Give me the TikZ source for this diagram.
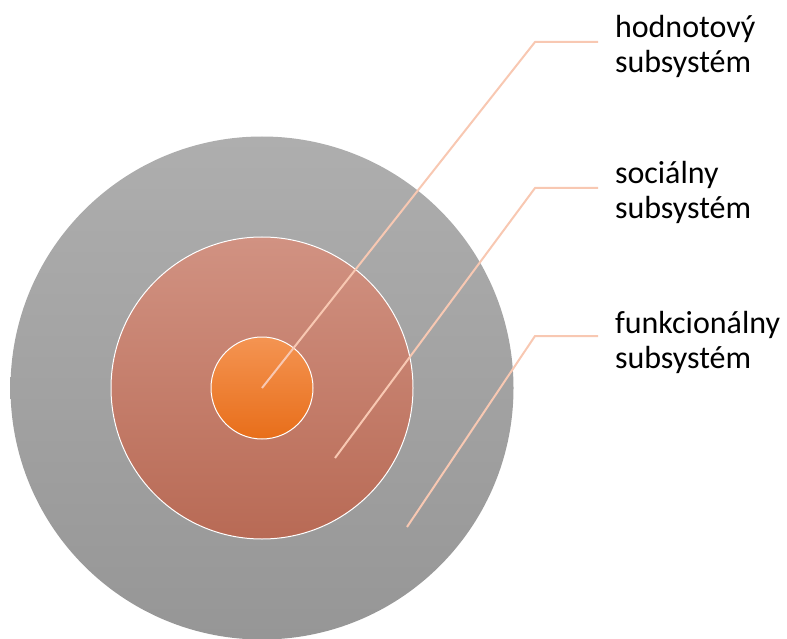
\documentclass[tikz,border=0pt]{standalone}
\usepackage{fontspec}
\setmainfont{Carlito}
\usetikzlibrary{calc}

\definecolor{leadcol}{RGB}{248,200,178}
\definecolor{outtop}{RGB}{174,174,174}
\definecolor{outbot}{RGB}{150,150,150}
\definecolor{midtop}{RGB}{209,146,130}
\definecolor{midbot}{RGB}{184,106,85}
\definecolor{intop}{RGB}{244,148,82}
\definecolor{inbot}{RGB}{232,110,26}

\tikzset{
  ring/.style={circle,inner sep=0pt,outer sep=0pt},
  leader/.style={draw=leadcol,line width=2pt},
  lbl/.style={anchor=west,align=left,inner sep=0pt,outer sep=0pt,font=\fontsize{32}{35}\selectfont}
}

\begin{document}
\begin{tikzpicture}[x=1pt,y=-1pt]
            \useasboundingbox (0,0) rectangle (787,639);

            \node[ring,minimum size=503pt,top color=outtop,bottom color=outbot] (outer) at (262,388) {};
            \node[ring,minimum size=302pt,top color=midtop,bottom color=midbot,draw=white,line width=1pt] (middle) at (262,388) {};
            \node[ring,minimum size=102pt,top color=intop,bottom color=inbot,draw=white,line width=1pt] (inner) at (262,388) {};

            \node[lbl] (hod) at (615,46) {hodnotový\\subsystém};
            \node[lbl] (soc) at (615,192) {sociálny\\subsystém};
            \node[lbl] (fun) at (615,342) {funkcionálny\\subsystém};

            \coordinate (k1) at (535,42);
            \coordinate (k2) at (535,188);
            \coordinate (k3) at (535,336);
            \coordinate (s2) at (335,458);
            \coordinate (s3) at (407,527);

            \draw[leader] (inner.center)--(k1)--($(k1-|hod.west)+(-17,0)$);
            \draw[leader] (s2)--(k2)--($(k2-|soc.west)+(-17,0)$);
            \draw[leader] (s3)--(k3)--($(k3-|fun.west)+(-17,0)$);
        \end{tikzpicture}
\end{document}
